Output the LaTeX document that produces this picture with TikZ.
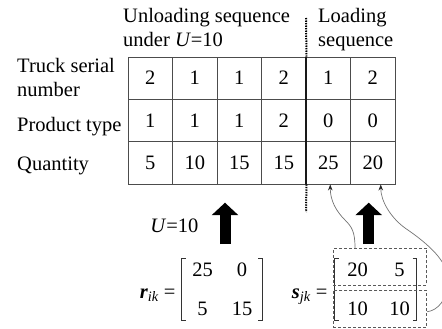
\documentclass[tikz,border=0pt]{standalone}
\usepackage{fontspec}
\setmainfont{Liberation Serif}
\usetikzlibrary{arrows.meta,matrix}
\begin{document}
\begin{tikzpicture}[x=1pt,y=-1pt,
    font=\fontsize{20.5}{24}\selectfont,
    cell/.style={draw=black!70,line width=0.9pt,minimum width=44.5pt,minimum height=42.33pt,inner sep=0pt},
    head/.style={anchor=north west,inner sep=0pt,align=left},
    rowlabel/.style={anchor=base west,inner sep=0pt},
    sepline/.style={line width=2pt,black,dash pattern=on 1.3pt off 1.2pt},
    bigarrow/.style={line width=11pt,-{Triangle[length=12.5pt,width=26pt]}},
    link/.style={black!55,line width=0.7pt,-{Stealth[length=6pt,width=4.5pt,color=black!85]}},
    dbox/.style={draw=black!65,line width=0.9pt,densely dashed,inner sep=0pt},
    bracket/.style={draw=black!80,line width=0.9pt},
    mat/.style={matrix of nodes,inner sep=0pt}]
    \useasboundingbox (0,0) rectangle (442,329);

    % Headers
    \node[head] (unloadHead) at (123,7.7) {Unloading sequence\\under \textit{U}=10};
    \node[head] (loadHead) at (318,7.7) {Loading\\sequence};

    % Row labels
    \node[head] (truckLbl) at (17,57.7) {Truck serial\\number};
    \node[rowlabel] (prodLbl) at (17,131) {Product type};
    \node[rowlabel] (qtyLbl) at (17,170) {Quantity};

    % Table cells
    \foreach \v [count=\c] in {2,1,1,2,1,2}
        \node[cell] (t\c) at (105.75+44.5*\c,78.17) {\v};
    \foreach \v [count=\c] in {1,1,1,2,0,0}
        \node[cell] (p\c) at (105.75+44.5*\c,120.5) {\v};
    \foreach \v [count=\c] in {5,10,15,15,25,20}
        \node[cell] (q\c) at (105.75+44.5*\c,162.83) {\v};

    % Separator
    \coordinate (sepTop) at (306,18);
    \coordinate (sepBot) at (306,212);
    \draw[sepline] (sepTop) -- (t4.north east);
    \draw[line width=2pt,black!90] (t4.north east) -- (q4.south east);
    \draw[sepline] (q4.south east) -- (sepBot);

    % Unloading side
    \coordinate (rFoot) at (225,244);
    \coordinate (rHead) at (225,202.7);
    \draw[bigarrow] (rFoot) -- (rHead);
    \node[anchor=base east] (uLbl) at (202,232.7) {\textit{U}=10};
    \matrix[mat,nodes={minimum width=24pt,minimum height=22pt,inner sep=0pt},
        column sep=15.5pt,row sep=17pt] (rmat) at (222.25,289.5) {25 & 0\\ 5 & 15\\};
    \draw[bracket] ([xshift=-4.5pt]rmat.north west) -- ++(-4,0) |- ([xshift=-4.5pt]rmat.south west);
    \draw[bracket] ([xshift=4pt]rmat.north east) -- ++(4,0) |- ([xshift=4pt]rmat.south east);
    \node[anchor=base east] (rLbl) at (179,298) {{\bfseries\itshape r}\textsubscript{\itshape ik} =};

    % Loading side
    \coordinate (sFoot) at (368.7,244);
    \coordinate (sHead) at (368.7,202.7);
    \draw[bigarrow] (sFoot) -- (sHead);
    \matrix[mat,nodes={minimum width=24pt,minimum height=22pt,inner sep=0pt},
        column sep=18pt,row sep=17pt] (smat) at (378.5,289.7) {20 & 5\\ 10 & 10\\};
    \draw[bracket] ([xshift=-6.5pt]smat.north west) -- ++(-4,0) |- ([xshift=-6.5pt]smat.south west);
    \draw[bracket] ([xshift=1pt]smat.north east) -- ++(4,0) |- ([xshift=1pt]smat.south east);
    \node[anchor=base east] (sLbl) at (331,298) {{\bfseries\itshape s}\textsubscript{\itshape jk} =};
    \node[dbox,minimum width=93.4pt,minimum height=36.7pt] (srow1) at (380,266.7) {};
    \node[dbox,minimum width=93.4pt,minimum height=37.3pt] (srow2) at (380,308.7) {};

    % Links to loaded quantities
    \draw[link] ([xshift=-25pt]srow1.north) .. controls +(0,-16) and +(7,7) .. (345,220)
        .. controls +(-9,-9) and +(0,16) .. ([xshift=2pt]q5.south);
    \draw[link] ([yshift=-3pt]srow2.east) .. controls +(10,-1) and +(0,20) .. (448,280)
        .. controls +(0,-18) and +(25,17) .. (405,228)
        .. controls +(-15,-11) and +(0,16) .. ([xshift=8pt]q6.south);
\end{tikzpicture}
\end{document}
